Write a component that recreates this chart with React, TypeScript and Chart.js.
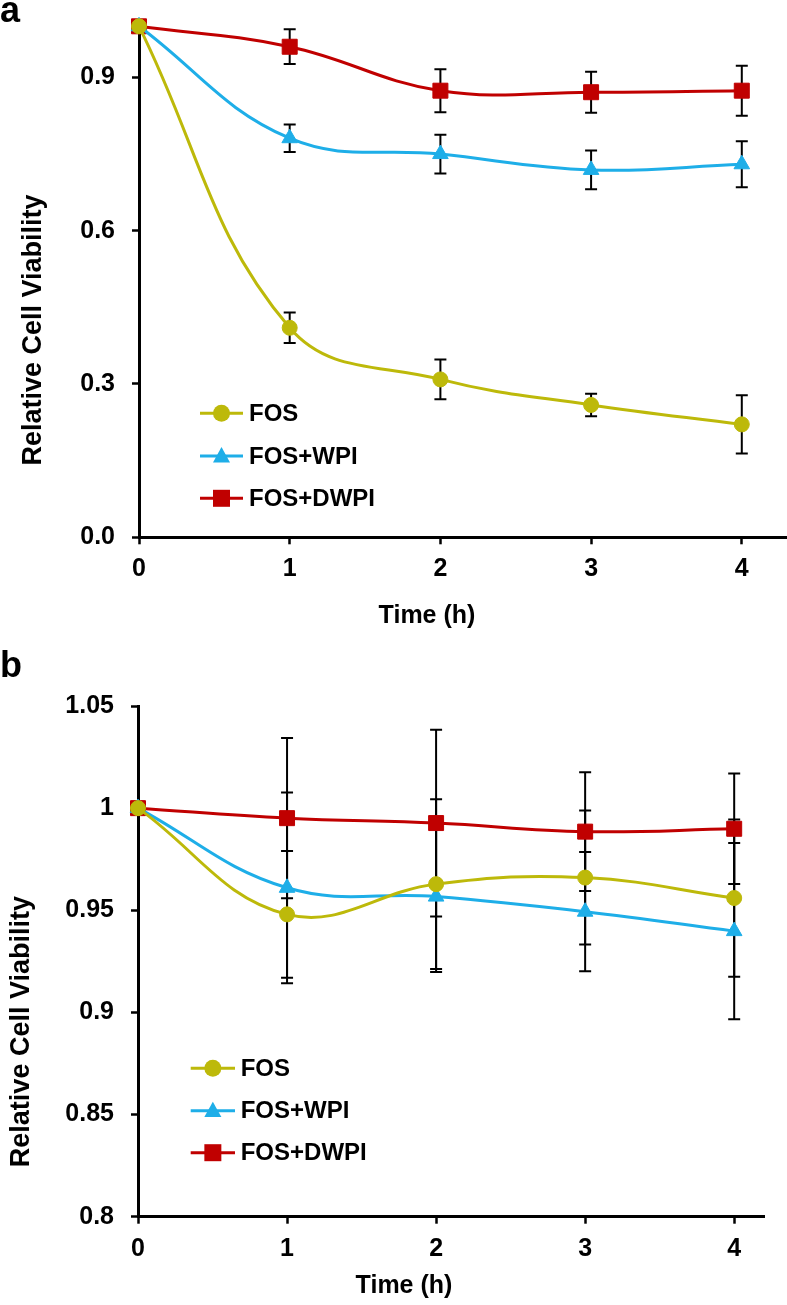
import React, { useEffect, useRef } from 'react';
import { Chart, registerables } from 'chart.js';

Chart.register(...registerables);

const FONT = '"Liberation Sans", Arial, Helvetica, sans-serif';

// ---------- shared ----------
const hours = [0, 1, 2, 3, 4];
const xTicks = [0, 1, 2, 3, 4];
const seriesNames = ['FOS', 'FOS+WPI', 'FOS+DWPI'];
const seriesColors = ['#bdb90a', '#1eaee8', '#c00000'];
const seriesPointStyles = ['circle', 'triangle', 'rect'];
const seriesPointRadii = [7.5, 9, 10.6];

// ---------- panel a ----------
const aFOS = [1.0, 0.41, 0.309, 0.259, 0.221];
const aFOSErr = [0, 0.03, 0.039, 0.022, 0.057];
const aWPI = [1.0, 0.781, 0.75, 0.719, 0.73];
const aWPIErr = [0, 0.027, 0.038, 0.038, 0.045];
const aDWPI = [1.0, 0.96, 0.874, 0.871, 0.874];
const aDWPIErr = [0, 0.034, 0.042, 0.04, 0.049];
const aYTicks = [0, 0.3, 0.6, 0.9];
const aYLabels = ['0.0', '0.3', '0.6', '0.9'];

// ---------- panel b ----------
const bFOS = [1.0, 0.948, 0.9628, 0.966, 0.956];
const bFOSErr = [0, 0.031, 0.0416, 0.0328, 0.0385];
const bWPI = [1.0, 0.961, 0.9567, 0.9493, 0.9398];
const bWPIErr = [0, 0.0467, 0.0369, 0.0292, 0.0431];
const bDWPI = [1.0, 0.9951, 0.9927, 0.9885, 0.9899];
const bDWPIErr = [0, 0.0392, 0.0457, 0.0291, 0.027];
const bYTicks = [0.8, 0.85, 0.9, 0.95, 1.0, 1.05];
const bYLabels = ['0.8', '0.85', '0.9', '0.95', '1', '1.05'];

const yTitle = 'Relative Cell Viability';
const xTitle = 'Time (h)';

function makeDatasets(values: number[][], errs: number[][]) {
  return values.map((vals, i) => ({
    label: seriesNames[i],
    data: hours.map((h, j) => ({ x: h, y: vals[j] })),
    errors: errs[i],
    borderColor: seriesColors[i],
    backgroundColor: seriesColors[i],
    pointBackgroundColor: seriesColors[i],
    pointBorderColor: seriesColors[i],
    pointBorderWidth: 1,
    pointStyle: seriesPointStyles[i],
    pointRadius: seriesPointRadii[i],
    borderWidth: 3,
    tension: 0.4,
    clip: false,
  }));
}

const errorBarPlugin = {
  id: 'errorBars',
  beforeDatasetsDraw(chart: any) {
    const ctx = chart.ctx;
    const xs = chart.scales.x;
    const ys = chart.scales.y;
    ctx.save();
    ctx.strokeStyle = '#000';
    ctx.lineWidth = 2;
    chart.data.datasets.forEach((ds: any) => {
      ds.data.forEach((p: any, j: number) => {
        const e = ds.errors[j];
        if (!e) return;
        const x = xs.getPixelForValue(p.x);
        const y1 = ys.getPixelForValue(p.y + e);
        const y2 = ys.getPixelForValue(p.y - e);
        ctx.beginPath();
        ctx.moveTo(x, y1);
        ctx.lineTo(x, y2);
        ctx.moveTo(x - 6, y1);
        ctx.lineTo(x + 6, y1);
        ctx.moveTo(x - 6, y2);
        ctx.lineTo(x + 6, y2);
        ctx.stroke();
      });
    });
    ctx.restore();
  },
};

function drawMarker(ctx: CanvasRenderingContext2D, style: string, x: number, y: number, r: number, color: string) {
  ctx.fillStyle = color;
  ctx.beginPath();
  if (style === 'circle') {
    ctx.arc(x, y, r, 0, Math.PI * 2);
  } else if (style === 'rect') {
    ctx.rect(x - r, y - r, 2 * r, 2 * r);
  } else {
    ctx.moveTo(x, y - r * 1.05);
    ctx.lineTo(x + r, y + r * 0.75);
    ctx.lineTo(x - r, y + r * 0.75);
    ctx.closePath();
  }
  ctx.fill();
}

interface Decor {
  letter: string;
  letterY: number;
  yTitleX: number;
  yTitleY: number;
  xTitleX: number;
  xTitleY: number;
  legendX1: number;
  legendX2: number;
  legendTextX: number;
  legendYs: number[];
}

function makeDecorPlugin(d: Decor) {
  return {
    id: 'decor',
    afterDraw(chart: any) {
      const ctx: CanvasRenderingContext2D = chart.ctx;
      ctx.save();
      ctx.fillStyle = '#000';
      // panel letter
      ctx.font = `bold 36px ${FONT}`;
      ctx.textAlign = 'left';
      ctx.textBaseline = 'alphabetic';
      ctx.fillText(d.letter, 0, d.letterY);
      // y title
      ctx.save();
      ctx.translate(d.yTitleX, d.yTitleY);
      ctx.rotate(-Math.PI / 2);
      ctx.font = `bold 27px ${FONT}`;
      ctx.textAlign = 'center';
      ctx.fillText(yTitle, 0, 0);
      ctx.restore();
      // x title
      ctx.font = `bold 25px ${FONT}`;
      ctx.textAlign = 'center';
      ctx.fillText(xTitle, d.xTitleX, d.xTitleY);
      // legend
      chart.data.datasets.forEach((ds: any, i: number) => {
        const y = d.legendYs[i];
        ctx.strokeStyle = ds.borderColor;
        ctx.lineWidth = 3;
        ctx.beginPath();
        ctx.moveTo(d.legendX1, y);
        ctx.lineTo(d.legendX2, y);
        ctx.stroke();
        drawMarker(ctx, ds.pointStyle, (d.legendX1 + d.legendX2) / 2, y, 8.5, ds.borderColor);
        ctx.fillStyle = '#000';
        ctx.font = `bold 24px ${FONT}`;
        ctx.textAlign = 'left';
        ctx.textBaseline = 'middle';
        ctx.fillText(ds.label, d.legendTextX, y + 1);
        ctx.textBaseline = 'alphabetic';
      });
      ctx.restore();
    },
  };
}

interface PanelProps {
  values: number[][];
  errs: number[][];
  yMin: number;
  yMax: number;
  yTicks: number[];
  yLabels: string[];
  xMax: number;
  height: number;
  padTop: number;
  padRight: number;
  yAxisWidth: number;
  xAxisHeight: number;
  decor: Decor;
}

function Panel(p: PanelProps) {
  const ref = useRef<HTMLCanvasElement | null>(null);
  useEffect(() => {
    if (!ref.current) return;
    const tickFont = { family: FONT, size: 25, weight: 'bold' as const };
    const chart = new Chart(ref.current, {
      type: 'line',
      data: { datasets: makeDatasets(p.values, p.errs) as any },
      options: {
        responsive: false,
        animation: false,
        devicePixelRatio: 1,
        events: [],
        layout: {
          autoPadding: false,
          padding: { top: p.padTop, right: p.padRight, bottom: 0, left: 0 },
        },
        plugins: {
          legend: { display: false },
          tooltip: { enabled: false },
          title: { display: false },
        },
        scales: {
          x: {
            type: 'linear',
            min: 0,
            max: p.xMax,
            afterBuildTicks: (s: any) => {
              s.ticks = xTicks.map((v) => ({ value: v }));
            },
            afterFit: (s: any) => {
              s.height = p.xAxisHeight;
              s.paddingLeft = 0;
              s.paddingRight = 0;
            },
            grid: {
              display: true,
              drawOnChartArea: false,
              drawTicks: true,
              tickLength: 7,
              tickWidth: 2.5,
              tickColor: '#000',
            },
            border: { display: true, color: '#000', width: 3 },
            ticks: {
              font: tickFont,
              color: '#000',
              padding: 10,
              maxRotation: 0,
              autoSkip: false,
              callback: (v: any, i: number) => String(xTicks[i]),
            },
          },
          y: {
            type: 'linear',
            min: p.yMin,
            max: p.yMax,
            afterBuildTicks: (s: any) => {
              s.ticks = p.yTicks.map((v) => ({ value: v }));
            },
            afterFit: (s: any) => {
              s.width = p.yAxisWidth;
              s.paddingTop = 0;
              s.paddingBottom = 0;
            },
            grid: {
              display: true,
              drawOnChartArea: false,
              drawTicks: true,
              tickLength: 7,
              tickWidth: 2.5,
              tickColor: '#000',
            },
            border: { display: true, color: '#000', width: 3 },
            ticks: {
              font: tickFont,
              color: '#000',
              padding: 17,
              autoSkip: false,
              callback: (v: any, i: number) => p.yLabels[i],
            },
          },
        },
      } as any,
      plugins: [errorBarPlugin, makeDecorPlugin(p.decor)],
    });
    return () => chart.destroy();
  }, []);
  return (
    <canvas
      ref={ref}
      width={787}
      height={p.height}
      style={{ display: 'block', width: 787, height: p.height }}
    />
  );
}

export default function App() {
  return (
    <div style={{ position: 'absolute', left: 0, top: 0, width: 787, height: 1305, background: '#fff' }}>
      <Panel
        values={[aFOS, aWPI, aDWPI]}
        errs={[aFOSErr, aWPIErr, aDWPIErr]}
        yMin={0}
        yMax={1.0}
        yTicks={aYTicks}
        yLabels={aYLabels}
        xMax={4.3}
        height={645}
        padTop={26.3}
        padRight={0}
        yAxisWidth={139}
        xAxisHeight={107.7}
        decor={{
          letter: 'a',
          letterY: 22,
          yTitleX: 41,
          yTitleY: 330,
          xTitleX: 427,
          xTitleY: 623,
          legendX1: 200,
          legendX2: 243,
          legendTextX: 249,
          legendYs: [413.3, 456, 498.3],
        }}
      />
      <Panel
        values={[bFOS, bWPI, bDWPI]}
        errs={[bFOSErr, bWPIErr, bDWPIErr]}
        yMin={0.8}
        yMax={1.05}
        yTicks={bYTicks}
        yLabels={bYLabels}
        xMax={4.2}
        height={660}
        padTop={61}
        padRight={23}
        yAxisWidth={138}
        xAxisHeight={88.3}
        decor={{
          letter: 'b',
          letterY: 32,
          yTitleX: 28.5,
          yTitleY: 386.6,
          xTitleX: 404,
          xTitleY: 648,
          legendX1: 190.7,
          legendX2: 235,
          legendTextX: 240.7,
          legendYs: [423.3, 465.7, 507.7],
        }}
      />
    </div>
  );
}
